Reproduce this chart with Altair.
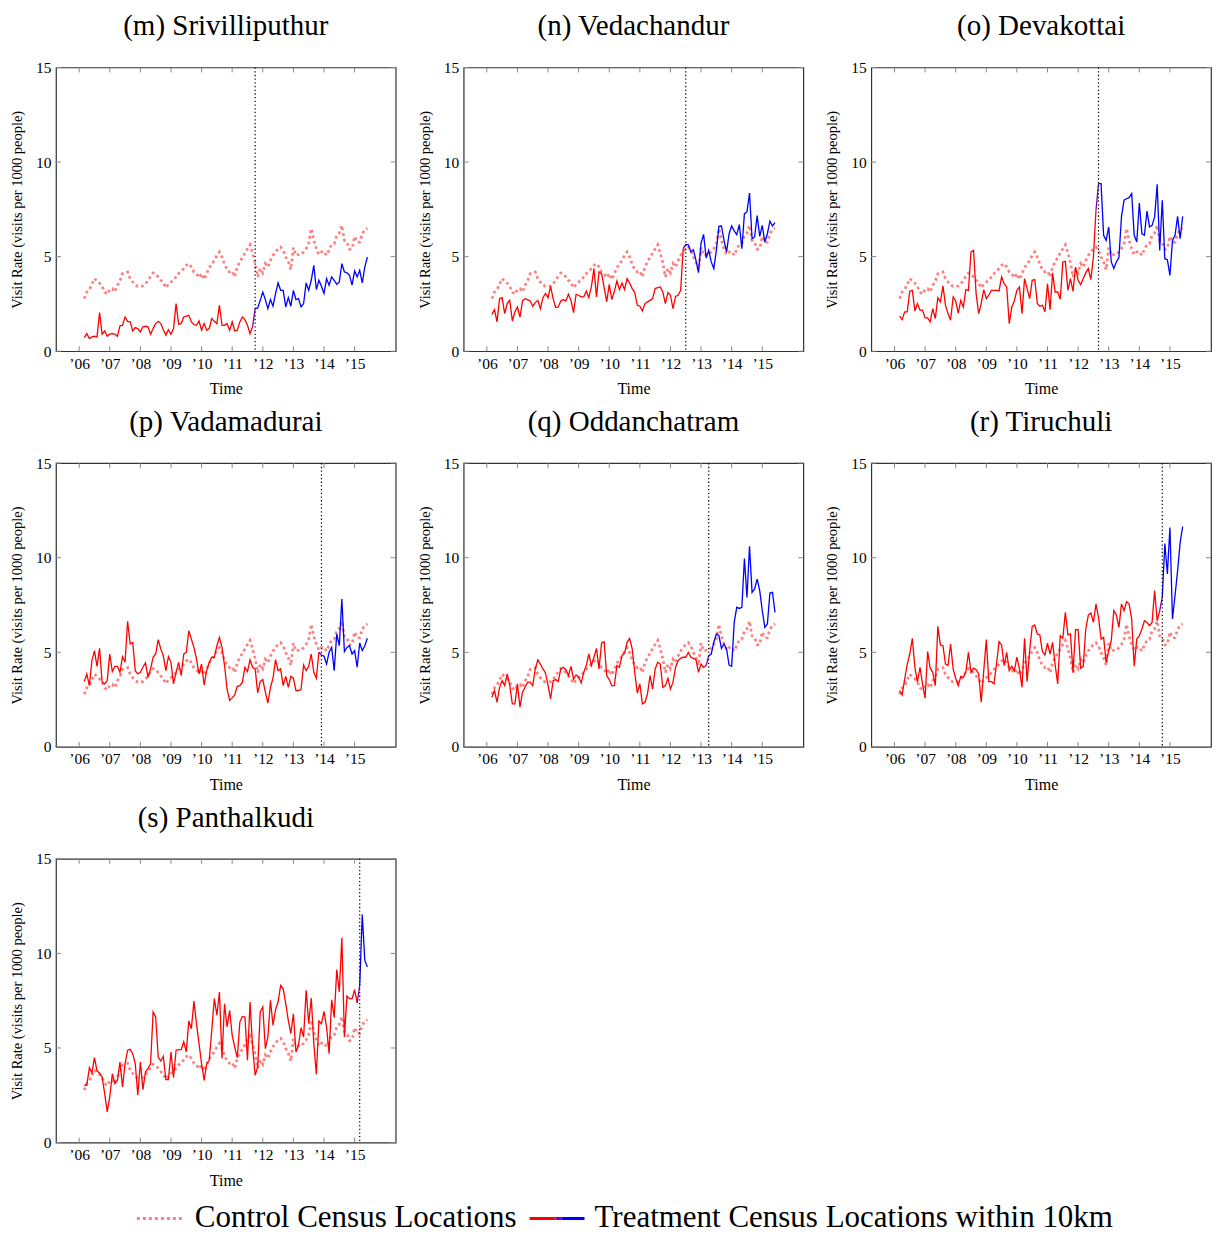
import altair as alt
import pandas as pd

FONT = "Liberation Serif"
PINK = "#ff7f7f"
RED = "#ff0000"
BLUE = "#0000ff"
PURPLE = "#8000b0"

W, H = 340, 284

# monthly series, March 2006 .. June 2015 (112 months)
start_year = 2006
start_month = 3
n_months = 112

year_ticks = list(range(2006, 2016))
y_ticks = [0, 5, 10, 15]

control = [2.78, 3.13, 3.26, 3.54, 3.84, 3.71, 3.6, 3.43, 3.13, 3.01,
           3.26, 3.31, 3.13, 3.49, 3.71, 4.1, 4.15, 4.19, 3.84, 3.66,
           3.49, 3.43, 3.43, 3.45, 3.57, 3.75, 3.96, 4.14, 4.07, 3.93,
           3.75, 3.61, 3.35, 3.54, 3.66, 3.75, 3.93, 4.1, 4.24, 4.37,
           4.54, 4.63, 4.45, 4.19, 4.1, 3.89, 4.1, 3.79, 4.1, 4.42,
           4.6, 4.8, 5.07, 5.25, 4.98, 4.6, 4.31, 4.19, 4.24, 3.93,
           4.45, 4.72, 4.95, 5.19, 5.42, 5.63, 5.19, 4.67, 3.93, 4.37,
           4.14, 4.63, 4.45, 4.8, 5.07, 5.25, 5.42, 5.51, 5.33, 4.98,
           4.72, 4.31, 5.48, 5.07, 5.11, 5.11, 5.25, 5.42, 5.69, 6.48,
           5.86, 5.42, 5.11, 5.25, 5.28, 5.07, 5.37, 5.65, 5.69, 6.13,
           6.25, 6.65, 5.86, 5.77, 5.39, 5.42, 6.07, 5.77, 5.77, 6.21,
           6.43, 6.5]

treat_m = [0.72, 0.93, 0.67, 0.76, 0.79, 0.76, 2.04, 0.9, 1.07, 0.79,
           0.9, 0.93, 0.9, 0.79, 1.34, 1.37, 1.81, 1.58, 1.55, 1.07,
           1.25, 1.2, 1.02, 1.29, 1.32, 1.29, 0.9, 1.2, 1.46, 1.58,
           1.46, 1.14, 0.85, 1.14, 0.9, 1.2, 2.52, 1.43, 1.46, 1.81,
           1.85, 1.9, 1.55, 1.41, 1.37, 1.6, 1.11, 1.46, 1.11, 1.2,
           1.73, 1.58, 1.46, 2.43, 1.37, 1.37, 1.46, 1.11, 1.55, 1.07,
           1.11, 1.55, 1.81, 1.67, 1.37, 0.93, 1.29, 2.25, 2.29, 2.69,
           3.13, 2.73, 2.25, 2.73, 2.38, 3.05, 3.61, 3.22, 3.22, 2.34,
           2.83, 2.38, 3.22, 2.73, 2.78, 2.34, 2.52, 3.61, 3.22, 3.75,
           4.54, 3.26, 3.75, 3.43, 3.05, 3.84, 3.49, 3.93, 3.75, 3.54,
           3.66, 4.63, 4.19, 4.15, 4.01, 3.49, 4.24, 3.93, 4.28, 3.61,
           4.45, 4.98]

treat_n = [1.95, 2.2, 1.55, 2.78, 2.83, 1.99, 2.52, 2.69, 1.6, 2.08,
           2.34, 1.81, 2.66, 2.78, 2.73, 2.66, 2.38, 2.57, 2.69, 2.25,
           2.83, 3.05, 2.83, 3.43, 2.78, 2.31, 2.34, 2.66, 2.73, 2.66,
           3.01, 2.69, 2.04, 3.01, 2.96, 2.87, 2.87, 3.17, 2.83, 3.4,
           4.37, 2.87, 4.19, 4.1, 3.36, 2.61, 3.54, 2.73, 3.17, 3.71,
           3.26, 3.61, 3.26, 3.84, 3.61, 3.31, 3.1, 2.43, 2.38, 2.13,
           2.52, 2.61, 2.69, 2.78, 3.31, 3.36, 3.4, 3.13, 2.52, 3.1,
           2.96, 2.25, 2.9, 2.96, 3.22, 5.42, 5.65, 5.63, 5.25, 5.37,
           4.8, 4.15, 5.72, 6.18, 4.93, 5.33, 4.72, 4.37, 5.33, 6.6,
           6.62, 5.86, 5.25, 6.21, 6.62, 6.36, 6.16, 6.69, 5.42, 7.27,
           7.36, 8.36, 5.95, 6.04, 7.17, 6.07, 6.65, 5.77, 6.21, 6.88,
           6.62, 6.8]

treat_o = [1.85, 1.67, 2.08, 2.08, 3.17, 3.22, 2.13, 2.52, 2.17, 2.17,
           1.76, 1.76, 1.55, 2.25, 1.73, 2.83, 2.61, 3.45, 2.43, 1.99,
           1.64, 2.87, 2.66, 2.02, 2.69, 2.34, 3.26, 3.22, 5.25, 5.33,
           3.05, 1.99, 2.52, 3.26, 2.78, 2.96, 3.22, 3.22, 3.22, 3.19,
           3.93, 3.57, 3.4, 1.46, 2.34, 2.66, 3.22, 3.4, 1.99, 3.84,
           3.31, 2.78, 3.75, 3.79, 2.52, 2.38, 2.43, 2.08, 3.57, 2.2,
           4.14, 3.13, 3.13, 2.75, 4.72, 4.75, 3.22, 3.84, 3.17, 4.45,
           3.75, 3.52, 3.84, 4.14, 4.37, 3.79, 4.98, 7.45, 8.86, 8.86,
           6.13, 5.86, 6.57, 4.72, 4.37, 4.72, 4.95, 7.1, 7.98, 8.06,
           8.12, 8.33, 6.13, 5.77, 7.83, 6.21, 6.13, 7.41, 6.57, 6.65,
           7.1, 8.82, 5.33, 7.98, 4.89, 4.84, 4.01, 5.86, 6.13, 7.13,
           5.95, 7.13]

treat_p = [3.45, 3.86, 3.24, 4.56, 5.09, 4.26, 5.21, 3.42, 3.33, 3.5,
           4.91, 3.98, 4.26, 4.26, 3.94, 4.77, 4.47, 6.64, 5.44, 5.53,
           4.03, 3.86, 3.94, 4.21, 4.44, 3.68, 4.12, 4.74, 4.91, 5.67,
           5.18, 4.82, 4.03, 4.77, 4.47, 3.33, 3.94, 4.47, 3.77, 4.91,
           5.0, 6.14, 5.7, 5.26, 4.65, 3.86, 4.38, 3.27, 4.03, 4.47,
           4.74, 4.74, 5.35, 5.79, 5.26, 4.3, 3.06, 2.45, 2.59, 2.75,
           3.2, 3.24, 3.42, 4.21, 3.98, 4.61, 4.21, 4.12, 2.85, 3.45,
           3.56, 2.89, 2.32, 3.15, 3.63, 4.61, 4.03, 4.12, 3.24, 3.73,
           3.15, 3.73, 3.63, 2.98, 2.98, 3.03, 4.33, 4.03, 4.26, 4.91,
           3.94, 3.63, 5.0, 4.86, 4.79, 4.38, 5.0, 5.26, 4.03, 5.97,
           5.35, 7.82, 5.04, 5.26, 5.35, 4.91, 5.09, 4.21, 5.49, 5.09,
           5.35, 5.74]

treat_q = [2.62, 2.98, 2.36, 3.15, 3.5, 3.24, 3.86, 3.24, 2.27, 2.27,
           3.33, 2.1, 2.89, 3.15, 3.42, 3.42, 3.24, 4.12, 4.6, 4.38,
           4.12, 3.91, 3.24, 2.54, 3.5, 3.56, 3.45, 4.12, 4.21, 4.08,
           3.77, 4.26, 3.59, 3.8, 3.68, 3.38, 3.94, 4.3, 4.91, 4.3,
           4.74, 5.21, 4.12, 5.49, 5.56, 3.77, 3.56, 3.24, 3.24, 4.3,
           4.21, 4.82, 4.96, 5.53, 5.74, 5.18, 3.94, 2.85, 3.33, 2.27,
           2.36, 2.8, 3.77, 3.06, 4.12, 4.47, 4.38, 3.15, 3.24, 3.63,
           3.06, 3.42, 4.21, 4.56, 4.68, 4.74, 4.74, 5.0, 4.74, 4.68,
           4.61, 3.94, 4.38, 4.21, 4.3, 4.82, 4.91, 5.53, 5.97, 5.88,
           5.21, 5.44, 5.18, 4.33, 4.26, 6.58, 7.38, 7.32, 7.38, 9.96,
           7.9, 10.6, 8.17, 8.35, 8.87, 8.26, 7.2, 6.32, 6.5, 8.13,
           8.17, 7.11]

treat_r = [2.98, 2.75, 3.59, 4.38, 4.91, 5.74, 4.21, 3.42, 4.21, 3.33,
           2.57, 5.04, 4.16, 3.94, 3.24, 6.37, 5.39, 5.35, 4.38, 4.3,
           5.44, 4.12, 3.63, 3.24, 3.73, 3.68, 3.98, 5.0, 3.94, 4.16,
           4.08, 3.86, 2.36, 4.03, 5.67, 3.45, 3.45, 3.33, 4.38, 5.56,
           5.39, 4.3, 5.0, 4.03, 4.26, 4.03, 4.74, 4.12, 3.15, 5.74,
           3.45, 5.09, 6.37, 6.44, 5.97, 5.92, 5.04, 4.86, 5.49, 4.91,
           5.53, 4.33, 3.33, 5.88, 5.74, 7.11, 5.92, 5.97, 3.94, 6.2,
           6.2, 4.16, 4.26, 6.23, 6.97, 7.08, 6.58, 7.55, 6.85, 5.7,
           5.79, 4.47, 5.09, 5.62, 7.2, 6.97, 6.32, 7.55, 7.2, 7.68,
           7.55, 6.76, 4.26, 5.7, 5.88, 6.23, 6.67, 6.58, 6.41, 6.58,
           8.26, 6.67, 7.2, 7.9, 10.75, 9.14, 11.6, 6.76, 8.0, 9.3,
           10.8, 11.65]

treat_s = [3.03, 3.03, 3.96, 3.68, 4.49, 3.79, 3.68, 3.47, 2.59, 1.62,
           2.41, 3.64, 3.12, 3.29, 4.26, 2.94, 4.17, 4.88, 4.93, 4.7,
           4.17, 2.5, 4.26, 2.8, 3.73, 3.91, 4.17, 6.9, 6.64, 4.52,
           4.31, 4.56, 3.33, 3.33, 4.79, 3.43, 4.88, 4.91, 4.91, 5.32,
           4.79, 6.43, 6.02, 7.48, 6.29, 5.23, 4.17, 3.29, 4.17, 4.35,
           5.93, 7.61, 6.73, 7.96, 4.44, 7.34, 6.11, 6.99, 5.67, 5.05,
           4.49, 6.37, 6.67, 6.64, 4.35, 7.43, 5.05, 3.56, 4.0, 6.9,
           7.17, 4.96, 5.58, 7.52, 6.2, 7.02, 7.43, 8.31, 8.13, 7.34,
           6.46, 5.76, 6.81, 4.79, 5.14, 6.07, 5.58, 8.05, 6.29, 7.64,
           5.23, 3.61, 6.43, 6.29, 6.94, 6.11, 4.7, 7.55, 6.6, 9.14,
           7.96, 10.83, 5.58, 7.75, 7.61, 7.61, 8.08, 7.38, 8.31, 12.06,
           9.63, 9.28]

panel_keys = ["m", "n", "o", "p", "q", "r", "s"]
panel_names = ["Srivilliputhur", "Vedachandur", "Devakottai", "Vadamadurai",
               "Oddanchatram", "Tiruchuli", "Panthalkudi"]
panel_series = [treat_m, treat_n, treat_o, treat_p, treat_q, treat_r, treat_s]
# month index (from March 2006) at which the treatment starts
panel_cutoff = [67, 76, 78, 93, 85, 103, 108]

legend_labels = ["Control Census Locations", "Treatment Census Locations within 10km"]

times = [start_year + (start_month - 1 + i) / 12 for i in range(n_months)]

xscale = alt.Scale(domain=[2005.242, 2016.342], nice=False, zero=False)
yscale = alt.Scale(domain=[0, 15], nice=False)

xaxis = alt.Axis(values=year_ticks,
                 labelExpr="'\u2019' + format(datum.value - 2000, '02d')",
                 ticks=False, grid=False, domain=False, title="Time",
                 labelFont=FONT, titleFont=FONT, labelFontSize=15.5, titleFontSize=16,
                 titleFontWeight="normal", labelColor="black", titleColor="black",
                 labelPadding=5, titlePadding=9)
yaxis = alt.Axis(values=y_ticks, ticks=False, grid=False, domain=False,
                 title="Visit Rate (visits per 1000 people)",
                 labelFont=FONT, titleFont=FONT, labelFontSize=15.5, titleFontSize=14.5,
                 titleFontWeight="normal", labelColor="black", titleColor="black",
                 labelPadding=5, titlePadding=11)


def panel(key, name, series, k):
    df = pd.DataFrame({"t": times, "control": control, "treat": series,
                       "i": list(range(n_months))})
    base = alt.Chart(df)
    X = alt.X("t:Q", scale=xscale, axis=xaxis)
    ctrl = base.mark_line(color=PINK, strokeWidth=2.7, strokeDash=[2.7, 3.0],
                          strokeCap="butt").encode(
        x=X, y=alt.Y("control:Q", scale=yscale, axis=yaxis))
    Yt = alt.Y("treat:Q", scale=yscale, axis=yaxis)
    red = base.transform_filter(f"datum.i <= {k - 1}").mark_line(
        color=RED, strokeWidth=1.3).encode(x=X, y=Yt)
    bridge = base.transform_filter(f"datum.i >= {k - 1} && datum.i <= {k}").mark_line(
        color=PURPLE, strokeWidth=1.3).encode(x=X, y=Yt)
    blue = base.transform_filter(f"datum.i >= {k}").mark_line(
        color=BLUE, strokeWidth=1.3).encode(x=X, y=Yt)
    cut_df = pd.DataFrame({"t": [times[k]]})
    cutline = alt.Chart(cut_df).mark_rule(color="black", strokeWidth=1.2,
                                          strokeDash=[1.3, 2.4]).encode(
        x=X, y=alt.value(0), y2=alt.value(H))
    xt = pd.DataFrame({"t": year_ticks})
    yt = pd.DataFrame({"v": y_ticks})
    tick_style = dict(color="#888888", strokeWidth=1)
    xb = alt.Chart(xt).mark_rule(**tick_style).encode(x=X, y=alt.value(H), y2=alt.value(H - 5))
    xtop = alt.Chart(xt).mark_rule(**tick_style).encode(x=X, y=alt.value(0), y2=alt.value(5))
    Yv = alt.Y("v:Q", scale=yscale, axis=yaxis)
    yl = alt.Chart(yt).mark_rule(**tick_style).encode(y=Yv, x=alt.value(0), x2=alt.value(5))
    yr = alt.Chart(yt).mark_rule(**tick_style).encode(y=Yv, x=alt.value(W), x2=alt.value(W - 5))
    return alt.layer(xb, xtop, yl, yr, ctrl, red, bridge, blue, cutline).properties(
        width=W, height=H, title=f"({key}) {name}")


panels = [panel(k, n, s, c) for k, n, s, c in
          zip(panel_keys, panel_names, panel_series, panel_cutoff)]

# the legend row is aligned on the first panel's plot area
LW = 1100
LH = 22
one = alt.Data(values=[{"a": 1}])
leg_y = 11
legend = alt.layer(
    alt.Chart(one).mark_rule(color=PINK, strokeWidth=3, strokeDash=[3, 3],
                             strokeCap="butt").encode(
        x=alt.value(81), x2=alt.value(128), y=alt.value(leg_y)),
    alt.Chart(one).mark_text(align="left", baseline="middle", font=FONT, fontSize=31,
                             color="black").encode(
        x=alt.value(139), y=alt.value(leg_y), text=alt.value(legend_labels[0])),
    alt.Chart(one).mark_rule(color=RED, strokeWidth=3).encode(
        x=alt.value(474), x2=alt.value(500), y=alt.value(leg_y)),
    alt.Chart(one).mark_rule(color=PURPLE, strokeWidth=3).encode(
        x=alt.value(500), x2=alt.value(506), y=alt.value(leg_y)),
    alt.Chart(one).mark_rule(color=BLUE, strokeWidth=3).encode(
        x=alt.value(506), x2=alt.value(529), y=alt.value(leg_y)),
    alt.Chart(one).mark_text(align="left", baseline="middle", font=FONT, fontSize=31,
                             color="black").encode(
        x=alt.value(539), y=alt.value(leg_y), text=alt.value(legend_labels[1])),
).properties(width=LW, height=LH, view=alt.ViewBackground(stroke="transparent"))

rows = alt.vconcat(
    alt.hconcat(*panels[0:3], spacing=18),
    alt.hconcat(*panels[3:6], spacing=18),
    alt.hconcat(panels[6], spacing=18),
    spacing=9,
)

chart = alt.vconcat(
    rows, legend, spacing=12,
    padding={"top": 3, "left": 0, "right": 0, "bottom": 0},
).configure_view(
    stroke="#333333", strokeWidth=1.2
).configure_title(
    font=FONT, fontSize=29, fontWeight="normal", color="black", offset=19, anchor="middle"
).configure_text(font=FONT)

chart.save("out.html", embed_options={"renderer": "svg", "actions": False})
